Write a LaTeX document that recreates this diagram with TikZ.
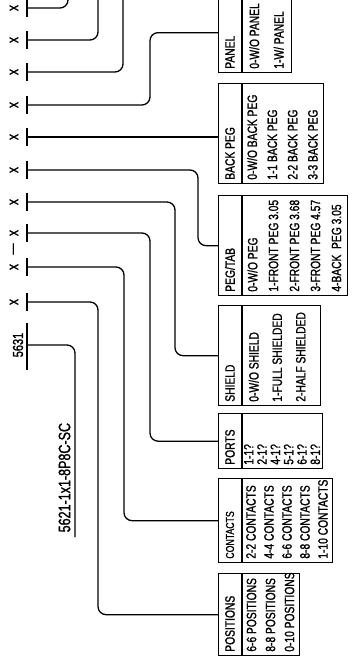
\documentclass[tikz,border=0pt]{standalone}
\usepackage{fontspec}
\setmainfont{Liberation Sans}[FakeStretch=0.76, FakeBold=1.2]
\begin{document}
\begin{tikzpicture}[x=1pt, y=-1pt, line width=1.3pt,
    lead/.style={rounded corners=8pt},
    optbox/.style={draw, anchor=north west, inner sep=0pt},
    txt/.style={rotate=90, inner sep=0pt, anchor=west, font=\fontsize{13.5}{15}\selectfont},
    field/.style={rotate=90, inner sep=0pt, font=\fontsize{14.5}{16}\selectfont}]
    \useasboundingbox (0,0) rectangle (358,664);

    %part number
    \node[field] (base) at (18,345) {5631};
    \draw (27,323) -- (27,370);
    \coordinate (pn) at (27,345);
    \foreach \y [count=\i] in {302,267,233,202,170,137,105,72,40,8} {
        \node[field, font=\fontsize{16}{18}\selectfont] (x\i) at (14,\y) {x};
        \draw (27,\y-9) -- (27,\y+9);
        \coordinate (m\i) at (27,\y);
    }
    \node[field] (dash) at (15,249) {—};

    %alternative number
    \node[field, font=\fontsize{16.5}{18}\selectfont, anchor=south west, inner sep=4pt] (alt) at (75,537) {5621-1x1-8P8C-SC};
    \draw[lead] (pn) -| (alt.south west);

    %panel
    \node[optbox, minimum width=73pt, minimum height=80pt] (panbox) at (218,-8) {};
    \draw ([xshift=24pt]panbox.north west) -- ([xshift=24pt]panbox.south west);
    \node[txt] at ([xshift=12pt, yshift=4pt]panbox.south west) {PANEL};
    \foreach \t [count=\i] in {0-W/O PANEL,1-W/ PANEL}
        \node[txt] at ([xshift={24pt+(\i-0.5)*24.5pt}, yshift=4pt]panbox.south west) {\t};

    %back peg
    \node[optbox, minimum width=105pt, minimum height=100pt] (bpbox) at (218,83) {};
    \draw ([xshift=24pt]bpbox.north west) -- ([xshift=24pt]bpbox.south west);
    \node[txt] at ([xshift=12pt, yshift=4pt]bpbox.south west) {BACK PEG};
    \foreach \t [count=\i] in {0-W/O BACK PEG,1-1 BACK PEG,2-2 BACK PEG,3-3 BACK PEG}
        \node[txt] at ([xshift={24pt+(\i-0.5)*20.25pt}, yshift=4pt]bpbox.south west) {\t};

    %peg/tab
    \node[optbox, minimum width=129pt, minimum height=100pt] (pegbox) at (218,195) {};
    \draw ([xshift=24pt]pegbox.north west) -- ([xshift=24pt]pegbox.south west);
    \node[txt] at ([xshift=12pt, yshift=4pt]pegbox.south west) {PEG/TAB};
    \foreach \t [count=\i] in {0-W/O PEG,1-FRONT PEG 3.05,2-FRONT PEG 3.68,3-FRONT PEG 4.57,4-BACK~ PEG 3.05}
        \node[txt] at ([xshift={24pt+(\i-0.5)*21pt}, yshift=4pt]pegbox.south west) {\t};

    %shield
    \node[optbox, minimum width=102pt, minimum height=100pt] (shbox) at (218,305) {};
    \draw ([xshift=24pt]shbox.north west) -- ([xshift=24pt]shbox.south west);
    \node[txt] at ([xshift=12pt, yshift=4pt]shbox.south west) {SHIELD};
    \foreach \t [count=\i] in {0-W/O SHIELD,1-FULL SHIELDED,2-HALF SHIELDED}
        \node[txt] at ([xshift={24pt+(\i-0.5)*23.5pt}, yshift=4pt]shbox.south west) {\t};

    %ports
    \node[optbox, minimum width=104pt, minimum height=55pt] (ptbox) at (218,413) {};
    \draw ([xshift=24pt]ptbox.north west) -- ([xshift=24pt]ptbox.south west);
    \node[txt] at ([xshift=12pt, yshift=4pt]ptbox.south west) {PORTS};
    \foreach \t [count=\i] in {1-1?,2-1?,4-1?,5-1?,6-1?,8-1?}
        \node[txt] at ([xshift={24pt+(\i-0.5)*13.33pt}, yshift=4pt]ptbox.south west) {\t};

    %contacts
    \node[optbox, minimum width=114pt, minimum height=84pt] (ctbox) at (218,478) {};
    \draw ([xshift=24pt]ctbox.north west) -- ([xshift=24pt]ctbox.south west);
    \node[txt, font=\fontsize{11.5}{13}\selectfont] at ([xshift=12pt, yshift=4pt]ctbox.south west) {CONTACTS};
    \foreach \t [count=\i] in {2-2 CONTACTS,4-4 CONTACTS,6-6 CONTACTS,8-8 CONTACTS,1-10 CONTACTS}
        \node[txt] at ([xshift={24pt+(\i-0.5)*18pt}, yshift=4pt]ctbox.south west) {\t};

    %positions
    \node[optbox, minimum width=81pt, minimum height=82pt] (posbox) at (218,573) {};
    \draw ([xshift=24pt]posbox.north west) -- ([xshift=24pt]posbox.south west);
    \node[txt] at ([xshift=12pt, yshift=4pt]posbox.south west) {POSITIONS};
    \foreach \t [count=\i] in {6-6 POSITIONS,8-8 POSITIONS,0-10 POSITIONS}
        \node[txt] at ([xshift={24pt+(\i-0.5)*19pt}, yshift=4pt]posbox.south west) {\t};

    %leaders
    \draw[lead] (m1) -| ([xshift=-120pt]posbox.west) -- (posbox.west);
    \draw[lead] (m2) -| ([xshift=-94pt]ctbox.west) -- (ctbox.west);
    \draw[lead] (m3) -| ([xshift=-68pt]ptbox.west) -- (ptbox.west);
    \draw[lead] (m4) -| ([xshift=-43pt]shbox.west) -- (shbox.west);
    \draw[lead] (m5) -| ([xshift=-20pt]pegbox.west) -- (pegbox.west);
    \draw (m6) -- (m6 -| bpbox.west);
    \draw[lead] (m7) -| ([xshift=-68pt]panbox.west) -- (panbox.west);
    \coordinate (up8) at (123,-20);
    \coordinate (up9) at (98,-20);
    \coordinate (up10) at (68,-20);
    \draw[lead] (m8) -| (up8);
    \draw[lead] (m9) -| (up9);
    \draw[lead] (m10) -| (up10);

\end{tikzpicture}
\end{document}
